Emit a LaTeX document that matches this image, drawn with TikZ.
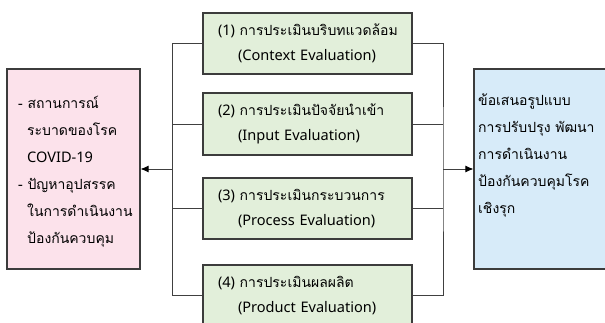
\documentclass[tikz,border=0pt]{standalone}
\usepackage{fontspec}
\setmainfont[Script=Thai]{Loma}
\newfontfamily\lat[Scale=1.04]{Noto Sans}
\usetikzlibrary{arrows.meta}

\definecolor{pinkfill}{HTML}{FCE2EB}
\definecolor{greenfill}{HTML}{E2EFDA}
\definecolor{bluefill}{HTML}{D7EBF9}
\definecolor{edge}{HTML}{3C3C3C}
\definecolor{wire}{HTML}{404040}

\tikzset{
  evalbox/.style={draw=edge, line width=1.1pt, fill=greenfill,
    minimum width=209pt, minimum height=61pt, inner xsep=10pt,
    text width=189pt, align=left, font=\fontsize{14}{25}\selectfont},
  sidebox/.style={draw=edge, line width=1.1pt, minimum height=200pt},
  sidetext/.style={anchor=north west, inner sep=0pt, align=left,
    font=\fontsize{14}{27}\selectfont},
  wireline/.style={draw=wire, line width=0.9pt},
  feed/.style={wireline, -{Latex[length=8pt,width=7pt,color=black]}}
}

% numbered Thai title on the first line, English name indented below
\newcommand{\stage}[3]{\hspace*{5pt}{\lat (#1) }#2\\\hspace*{25pt}{\lat (#3)}}

\begin{document}
\begin{tikzpicture}[x=1pt, y=-1pt]
  \useasboundingbox (0,0) rectangle (605,323);
  \clip (0,0) rectangle (605,323);

  % the four evaluation stages
  \node[evalbox] (b1) at (307.5,43.5)
    {\stage{1}{การประเมินบริบทแวดล้อม}{Context Evaluation}};
  \node[evalbox, minimum height=62pt] (b2) at (307.5,124)
    {\stage{2}{การประเมินปัจจัยนำเข้า}{Input Evaluation}};
  \node[evalbox] (b3) at (307.5,208.5)
    {\stage{3}{การประเมินกระบวนการ}{Process Evaluation}};
  \node[evalbox] (b4) at (307.5,295.5)
    {\stage{4}{การประเมินผลผลิต}{Product Evaluation}};

  % side boxes
  \node[sidebox, fill=pinkfill, minimum width=133pt] (lbox) at (73.5,169) {};
  \node[sidetext] (ltext) at (18,96)
    {- สถานการณ์\\
     \hspace*{9pt}ระบาดของโรค\\
     \hspace*{9pt}{\lat COVID-19}\\
     - ปัญหาอุปสรรค\\
     \hspace*{9pt}ในการดำเนินงาน\\
     \hspace*{9pt}ป้องกันควบคุม};
  \node[sidebox, fill=bluefill, minimum width=140pt] (rbox) at (544,169) {};
  \node[sidetext] (rtext) at (478,94)
    {ข้อเสนอรูปแบบ\\
     การปรับปรุง พัฒนา\\
     การดำเนินงาน\\
     ป้องกันควบคุมโรค\\
     เชิงรุก};

  % collecting buses
  \coordinate (lbus) at (172.5,169);
  \coordinate (rbus) at (443,169);

  \draw[wireline] (b1.west) -| (lbus) |- (b4.west);
  \draw[wireline] (b2.west) -- (b2.west -| lbus);
  \draw[wireline] (b3.west) -- (b3.west -| lbus);
  \draw[wireline] (b1.east) -| (rbus) |- (b4.east);
  \draw[wireline] (b2.east) -- (b2.east -| rbus);
  \draw[wireline] (b3.east) -- (b3.east -| rbus);

  \draw[feed] (lbus) -- (lbox.east);
  \draw[feed] (rbus) -- (rbox.west);
\end{tikzpicture}
\end{document}
